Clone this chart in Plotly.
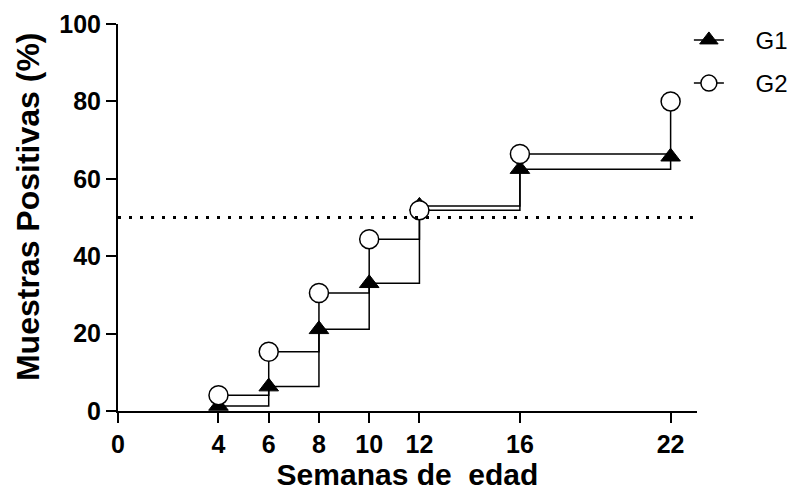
import plotly.graph_objects as go

weeks = [4, 6, 8, 10, 12, 16, 22]
g1 = [1.3, 6.3, 21.1, 33.0, 53.0, 62.5, 65.7]
g2 = [4.1, 15.3, 30.5, 44.4, 51.9, 66.4, 80.0]
x_ticks = [0, 4, 6, 8, 10, 12, 16, 22]
y_ticks = [0, 20, 40, 60, 80, 100]
threshold = 50
pad = "\u00a0" * 4

FONT = "Liberation Sans, Arial, sans-serif"

fig = go.Figure()
fig.add_trace(go.Scatter(
    x=weeks, y=g1, name=pad + "G1", mode="lines+markers", line_shape="hv",
    line=dict(color="black", width=1.5),
    marker=dict(symbol="triangle-up", size=17, color="black",
                line=dict(color="black", width=1)),
    legendgroup="g1", cliponaxis=False))
fig.add_trace(go.Scatter(
    x=weeks, y=g2, name=pad + "G2", mode="lines+markers", line_shape="hv",
    line=dict(color="black", width=1.5),
    marker=dict(symbol="circle", size=19, color="white",
                line=dict(color="black", width=1.5)),
    legendgroup="g2", cliponaxis=False))

fig.add_shape(type="line", xref="paper", yref="y", x0=0, x1=1,
              y0=threshold, y1=threshold,
              line=dict(color="black", width=3, dash="3px,8px"))
# small overshoot of x axis left of y axis
fig.add_shape(type="line", xref="paper", yref="y", x0=-10/579, x1=0,
              y0=0, y1=0, line=dict(color="black", width=2))

fig.add_annotation(text="Muestras Positivas (%)", textangle=-90,
                   xref="paper", yref="paper", x=-90/579, y=0.527,
                   xanchor="center", yanchor="middle", showarrow=False,
                   font=dict(size=32, family=FONT, weight="bold", color="black"))

# page body has an 8px default margin, so the figure is offset by 8px
fig.update_layout(
    width=792, height=488,
    margin=dict(l=110, r=103, t=16, b=85, autoexpand=False),
    paper_bgcolor="white", plot_bgcolor="white",
    font=dict(family=FONT, color="black"),
    showlegend=True,
    legend=dict(x=0.986, y=1.016, xanchor="left", yanchor="top",
                font=dict(size=24, family=FONT), tracegroupgap=9,
                bgcolor="rgba(0,0,0,0)"),
    xaxis=dict(range=[0, 23.05], tickvals=x_ticks, ticktext=[str(v) for v in x_ticks],
               showline=True, linecolor="black", linewidth=2,
               ticks="outside", ticklen=10, tickwidth=2, tickcolor="black",
               showgrid=False, zeroline=False, automargin=False,
               tickfont=dict(size=25, family=FONT, weight="bold"),
               title=dict(text="Semanas de\u00a0 edad", standoff=6,
                          font=dict(size=30, family=FONT, weight="bold"))),
    yaxis=dict(range=[0, 100], tickvals=y_ticks,
               showline=True, linecolor="black", linewidth=2,
               ticks="outside", ticklen=10, tickwidth=2, tickcolor="black",
               showgrid=False, zeroline=False, automargin=False,
               tickfont=dict(size=25, family=FONT, weight="bold")),
)

fig.write_html("out.html")
